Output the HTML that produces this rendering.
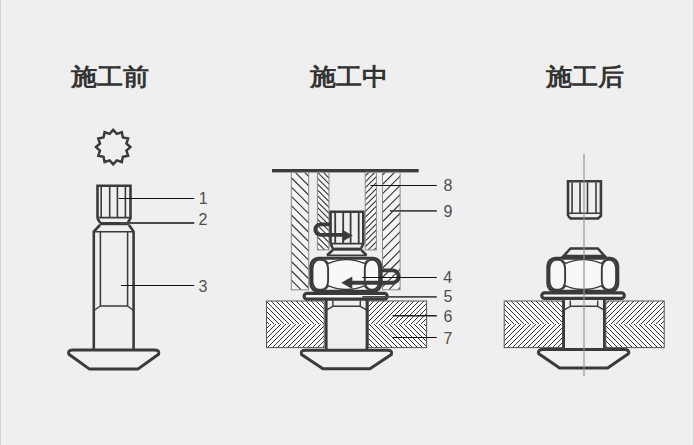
<!DOCTYPE html>
<html><head><meta charset="utf-8">
<style>
html,body{margin:0;padding:0;}
body{width:694px;height:445px;background:#efefef;position:relative;overflow:hidden;font-family:"Liberation Sans",sans-serif;}
.bl{position:absolute;top:0;bottom:0;width:1px;background:#d2d2d2;}
.t{position:absolute;font-size:26px;font-weight:bold;color:#333;line-height:30px;white-space:nowrap;transform:scale(1.0,0.92);transform-origin:0 0;}
svg{position:absolute;left:0;top:0;}
</style></head><body>
<div class="bl" style="left:0"></div><div class="bl" style="right:0"></div>
<div class="t" style="left:71px;top:63.3px">施工前</div>
<div class="t" style="left:309.5px;top:63.3px">施工中</div>
<div class="t" style="left:545.8px;top:63.3px">施工后</div>
<svg width="694" height="445" viewBox="0 0 694 445">
<defs>
<pattern id="hA" patternUnits="userSpaceOnUse" width="6.6" height="6.6" patternTransform="translate(0,2.7) rotate(-45)"><rect width="6.6" height="6.6" fill="#f4f4f4"/><line x1="3.3" y1="0" x2="3.3" y2="6.6" stroke="#333" stroke-width="1.1"/></pattern>
<pattern id="hB" patternUnits="userSpaceOnUse" width="6.6" height="6.6" patternTransform="translate(0,3.8) rotate(45)"><rect width="6.6" height="6.6" fill="#f4f4f4"/><line x1="3.3" y1="0" x2="3.3" y2="6.6" stroke="#333" stroke-width="1.1"/></pattern>
<pattern id="iA" patternUnits="userSpaceOnUse" width="4.13" height="4.13" patternTransform="translate(0,2.4) rotate(-45)"><rect width="4.13" height="4.13" fill="#f4f4f4"/><line x1="2.065" y1="0" x2="2.065" y2="4.13" stroke="#333" stroke-width="1.05"/></pattern>
<pattern id="iB" patternUnits="userSpaceOnUse" width="4.13" height="4.13" patternTransform="translate(0,0.8) rotate(45)"><rect width="4.13" height="4.13" fill="#f4f4f4"/><line x1="2.065" y1="0" x2="2.065" y2="4.13" stroke="#333" stroke-width="1.05"/></pattern>
<pattern id="pA" patternUnits="userSpaceOnUse" width="3.5355" height="3.5355" patternTransform="translate(0,1.5) rotate(-45)"><rect width="3.5355" height="3.5355" fill="#fbfbfb"/><line x1="1.76775" y1="0" x2="1.76775" y2="3.5355" stroke="#1a1a1a" stroke-width="1.1"/></pattern>
<pattern id="pB" patternUnits="userSpaceOnUse" width="3.5355" height="3.5355" patternTransform="translate(0,1.5) rotate(45)"><rect width="3.5355" height="3.5355" fill="#fbfbfb"/><line x1="1.76775" y1="0" x2="1.76775" y2="3.5355" stroke="#1a1a1a" stroke-width="1.1"/></pattern>
</defs>
<g fill="none" stroke="#3b3b3b" stroke-width="2.6" stroke-linejoin="miter">
<polygon points="113.20,129.90 116.75,133.87 121.80,132.20 122.89,137.41 128.10,138.50 126.43,143.55 130.40,147.10 126.43,150.65 128.10,155.70 122.89,156.79 121.80,162.00 116.75,160.33 113.20,164.30 109.65,160.33 104.60,162.00 103.51,156.79 98.30,155.70 99.97,150.65 96.00,147.10 99.97,143.55 98.30,138.50 103.51,137.41 104.60,132.20 109.65,133.87" stroke-width="2.5"/>
<path d="M97.5,218.5 V185.8 H130.5 V218.5 L128,222.5 M97.5,218.5 L100,222.5"/>
<path d="M101.2,187 V217 M109.7,187 V217 M117.4,187 V217 M125.4,187 V217 M97.5,217.6 H130.5" stroke-width="1.6"/>
<rect x="99.5" y="222" width="29.8" height="3.2" fill="#3b3b3b" stroke="none"/>
<path d="M100,225 L93.8,231.6 V349 M129,225 L133.6,231.6 V349"/>
<path d="M93.8,231.8 H133.6 M100.4,231.8 V306 H127.6 V231.8 M100.4,306 L93.8,310.5 M127.6,306 L133.6,310.5" stroke-width="1.5"/>
<path d="M73.05000000000001,350.0 H154.35 Q160.04999999999998,350.0 158.54999999999998,354.2 L138.2,368.9 H89.2 L68.85000000000001,354.2 Q67.35000000000001,350.0 73.05000000000001,350.0 Z" stroke-width="3.0" stroke-linejoin="round" fill="#f1f1f1"/>
<rect x="272" y="169" width="146.7" height="3.4" fill="#3b3b3b" stroke="none"/>
<clipPath id="c1"><rect x="291.3" y="172.3" width="17.399999999999977" height="117.5"/></clipPath>
<rect x="291.3" y="172.3" width="17.399999999999977" height="117.5" fill="#f4f4f4" stroke="none"/>
<path clip-path="url(#c1)" d="M153.70,170.3 L275.20,291.8 M163.00,170.3 L284.50,291.8 M172.30,170.3 L293.80,291.8 M181.60,170.3 L303.10,291.8 M190.90,170.3 L312.40,291.8 M200.20,170.3 L321.70,291.8 M209.50,170.3 L331.00,291.8 M218.80,170.3 L340.30,291.8 M228.10,170.3 L349.60,291.8 M237.40,170.3 L358.90,291.8 M246.70,170.3 L368.20,291.8 M256.00,170.3 L377.50,291.8 M265.30,170.3 L386.80,291.8 M274.60,170.3 L396.10,291.8 M283.90,170.3 L405.40,291.8 M293.20,170.3 L414.70,291.8 M302.50,170.3 L424.00,291.8 M311.80,170.3 L433.30,291.8 M321.10,170.3 L442.60,291.8" stroke="#333" stroke-width="1.1"/>
<rect x="291.3" y="172.3" width="17.399999999999977" height="117.5" stroke="#8a8a8a" stroke-width="1" fill="none"/>
<clipPath id="c2"><rect x="382.5" y="172.3" width="17.600000000000023" height="117.5"/></clipPath>
<rect x="382.5" y="172.3" width="17.600000000000023" height="117.5" fill="#f4f4f4" stroke="none"/>
<path clip-path="url(#c2)" d="M368.70,170.3 L247.20,291.8 M378.00,170.3 L256.50,291.8 M387.30,170.3 L265.80,291.8 M396.60,170.3 L275.10,291.8 M405.90,170.3 L284.40,291.8 M415.20,170.3 L293.70,291.8 M424.50,170.3 L303.00,291.8 M433.80,170.3 L312.30,291.8 M443.10,170.3 L321.60,291.8 M452.40,170.3 L330.90,291.8 M461.70,170.3 L340.20,291.8 M471.00,170.3 L349.50,291.8 M480.30,170.3 L358.80,291.8 M489.60,170.3 L368.10,291.8 M498.90,170.3 L377.40,291.8 M508.20,170.3 L386.70,291.8 M517.50,170.3 L396.00,291.8 M526.80,170.3 L405.30,291.8 M536.10,170.3 L414.60,291.8" stroke="#333" stroke-width="1.1"/>
<rect x="382.5" y="172.3" width="17.600000000000023" height="117.5" stroke="#8a8a8a" stroke-width="1" fill="none"/>
<clipPath id="c3"><rect x="317.4" y="172.3" width="11.600000000000023" height="77.6"/></clipPath>
<rect x="317.4" y="172.3" width="11.600000000000023" height="77.6" fill="#f4f4f4" stroke="none"/>
<path clip-path="url(#c3)" d="M227.42,170.3 L309.02,251.9 M233.29,170.3 L314.89,251.9 M239.16,170.3 L320.76,251.9 M245.03,170.3 L326.63,251.9 M250.90,170.3 L332.50,251.9 M256.77,170.3 L338.37,251.9 M262.64,170.3 L344.24,251.9 M268.51,170.3 L350.11,251.9 M274.38,170.3 L355.98,251.9 M280.25,170.3 L361.85,251.9 M286.12,170.3 L367.72,251.9 M291.99,170.3 L373.59,251.9 M297.86,170.3 L379.46,251.9 M303.73,170.3 L385.33,251.9 M309.60,170.3 L391.20,251.9 M315.47,170.3 L397.07,251.9 M321.34,170.3 L402.94,251.9 M327.21,170.3 L408.81,251.9 M333.08,170.3 L414.68,251.9" stroke="#333" stroke-width="1.05"/>
<rect x="317.4" y="172.3" width="11.600000000000023" height="77.6" stroke="#8a8a8a" stroke-width="1" fill="none"/>
<clipPath id="c4"><rect x="365.2" y="172.3" width="11.199999999999989" height="77.6"/></clipPath>
<rect x="365.2" y="172.3" width="11.199999999999989" height="77.6" fill="#f4f4f4" stroke="none"/>
<path clip-path="url(#c4)" d="M359.20,170.3 L277.60,251.9 M365.10,170.3 L283.50,251.9 M371.00,170.3 L289.40,251.9 M376.90,170.3 L295.30,251.9 M382.80,170.3 L301.20,251.9 M388.70,170.3 L307.10,251.9 M394.60,170.3 L313.00,251.9 M400.50,170.3 L318.90,251.9 M406.40,170.3 L324.80,251.9 M412.30,170.3 L330.70,251.9 M418.20,170.3 L336.60,251.9 M424.10,170.3 L342.50,251.9 M430.00,170.3 L348.40,251.9 M435.90,170.3 L354.30,251.9 M441.80,170.3 L360.20,251.9 M447.70,170.3 L366.10,251.9 M453.60,170.3 L372.00,251.9 M459.50,170.3 L377.90,251.9 M465.40,170.3 L383.80,251.9" stroke="#333" stroke-width="1.05"/>
<rect x="365.2" y="172.3" width="11.199999999999989" height="77.6" stroke="#8a8a8a" stroke-width="1" fill="none"/>
<path d="M330.55,243.5 V211.8 H363.3 V243.5 L361.3,248 M330.55,243.5 L332.6,248" fill="#efefef"/>
<path d="M335.2,213 V243 M343.2,213 V243 M350.6,213 V243 M358.7,213 V243 M330.5,243.6 H363.3" stroke-width="1.8"/>
<rect x="331.8" y="247.6" width="30.2" height="3.1" fill="#3b3b3b" stroke="none"/>
<path d="M332.5,250.2 L327,255.5 M361.5,250.2 L366.5,255.5"/>
<path d="M327,255.4 H366.5" stroke-width="1.8"/>
<g transform="translate(309.3,256.8)">
<rect x="1.5" y="1.5" width="70" height="33" rx="7.5" fill="#f8f8f8" stroke-width="3"/>
<rect x="3.2" y="3.1" width="15.60" height="29.8" rx="6.5" ry="8.5" stroke-width="1.9"/>
<rect x="55.5" y="3.1" width="14.30" height="29.8" rx="6.5" ry="8.5" stroke-width="1.9"/>
<path d="M18.8,6.8 Q37.15,-1.2 55.5,6.8 M18.8,28.8 Q37.15,36.6 55.5,28.8" stroke-width="1.4"/>
<path d="M15.8,3.2 L19.3,6.6 M58.5,3.2 L55.0,6.6 M15.8,32.8 L19.3,29.4 M58.5,32.8 L55.0,29.4" stroke-width="1.2"/>
</g>
<rect x="304.1" y="293.40000000000003" width="83.1" height="5.8" rx="2.9" fill="#fafafa" stroke-width="3.2"/>
<clipPath id="c5"><rect x="266.5" y="301" width="57.69999999999999" height="23.100000000000023"/></clipPath>
<rect x="266.5" y="301" width="57.69999999999999" height="23.100000000000023" fill="#fbfbfb" stroke="none"/>
<path clip-path="url(#c5)" d="M234.00,299 L261.10,326.1 M239.00,299 L266.10,326.1 M244.00,299 L271.10,326.1 M249.00,299 L276.10,326.1 M254.00,299 L281.10,326.1 M259.00,299 L286.10,326.1 M264.00,299 L291.10,326.1 M269.00,299 L296.10,326.1 M274.00,299 L301.10,326.1 M279.00,299 L306.10,326.1 M284.00,299 L311.10,326.1 M289.00,299 L316.10,326.1 M294.00,299 L321.10,326.1 M299.00,299 L326.10,326.1 M304.00,299 L331.10,326.1 M309.00,299 L336.10,326.1 M314.00,299 L341.10,326.1 M319.00,299 L346.10,326.1 M324.00,299 L351.10,326.1 M329.00,299 L356.10,326.1" stroke="#2a2a2a" stroke-width="0.95"/>
<clipPath id="c6"><rect x="266.5" y="324.1" width="57.69999999999999" height="23.5"/></clipPath>
<rect x="266.5" y="324.1" width="57.69999999999999" height="23.5" fill="#fbfbfb" stroke="none"/>
<path clip-path="url(#c6)" d="M262.90,322.1 L235.40,349.6 M267.90,322.1 L240.40,349.6 M272.90,322.1 L245.40,349.6 M277.90,322.1 L250.40,349.6 M282.90,322.1 L255.40,349.6 M287.90,322.1 L260.40,349.6 M292.90,322.1 L265.40,349.6 M297.90,322.1 L270.40,349.6 M302.90,322.1 L275.40,349.6 M307.90,322.1 L280.40,349.6 M312.90,322.1 L285.40,349.6 M317.90,322.1 L290.40,349.6 M322.90,322.1 L295.40,349.6 M327.90,322.1 L300.40,349.6 M332.90,322.1 L305.40,349.6 M337.90,322.1 L310.40,349.6 M342.90,322.1 L315.40,349.6 M347.90,322.1 L320.40,349.6 M352.90,322.1 L325.40,349.6 M357.90,322.1 L330.40,349.6" stroke="#2a2a2a" stroke-width="0.95"/>
<clipPath id="c7"><rect x="368.3" y="301" width="58.30000000000001" height="23.100000000000023"/></clipPath>
<rect x="368.3" y="301" width="58.30000000000001" height="23.100000000000023" fill="#fbfbfb" stroke="none"/>
<path clip-path="url(#c7)" d="M361.00,299 L333.90,326.1 M366.00,299 L338.90,326.1 M371.00,299 L343.90,326.1 M376.00,299 L348.90,326.1 M381.00,299 L353.90,326.1 M386.00,299 L358.90,326.1 M391.00,299 L363.90,326.1 M396.00,299 L368.90,326.1 M401.00,299 L373.90,326.1 M406.00,299 L378.90,326.1 M411.00,299 L383.90,326.1 M416.00,299 L388.90,326.1 M421.00,299 L393.90,326.1 M426.00,299 L398.90,326.1 M431.00,299 L403.90,326.1 M436.00,299 L408.90,326.1 M441.00,299 L413.90,326.1 M446.00,299 L418.90,326.1 M451.00,299 L423.90,326.1 M456.00,299 L428.90,326.1 M461.00,299 L433.90,326.1" stroke="#2a2a2a" stroke-width="0.95"/>
<clipPath id="c8"><rect x="368.3" y="324.1" width="58.30000000000001" height="23.5"/></clipPath>
<rect x="368.3" y="324.1" width="58.30000000000001" height="23.5" fill="#fbfbfb" stroke="none"/>
<path clip-path="url(#c8)" d="M337.10,322.1 L364.60,349.6 M342.10,322.1 L369.60,349.6 M347.10,322.1 L374.60,349.6 M352.10,322.1 L379.60,349.6 M357.10,322.1 L384.60,349.6 M362.10,322.1 L389.60,349.6 M367.10,322.1 L394.60,349.6 M372.10,322.1 L399.60,349.6 M377.10,322.1 L404.60,349.6 M382.10,322.1 L409.60,349.6 M387.10,322.1 L414.60,349.6 M392.10,322.1 L419.60,349.6 M397.10,322.1 L424.60,349.6 M402.10,322.1 L429.60,349.6 M407.10,322.1 L434.60,349.6 M412.10,322.1 L439.60,349.6 M417.10,322.1 L444.60,349.6 M422.10,322.1 L449.60,349.6 M427.10,322.1 L454.60,349.6 M432.10,322.1 L459.60,349.6" stroke="#2a2a2a" stroke-width="0.95"/>
<rect x="266.5" y="301" width="57.69999999999999" height="46.60000000000002" stroke="#555" stroke-width="1"/>
<rect x="368.3" y="301" width="58.30000000000001" height="46.60000000000002" stroke="#555" stroke-width="1"/>
<path d="M326.3,300 V349 M366.90000000000003,300 V349" stroke-width="2.6"/>
<path d="M332.90000000000003,300.5 V306.3 H360.3 V300.5 M332.90000000000003,306.3 L326.3,310.2 M360.3,306.3 L366.90000000000003,310.2" stroke-width="1.4"/>
<path d="M305.7,350.2 H387.2 Q392.9,350.2 391.4,354.4 L369.95,368.8 H322.95 L301.5,354.4 Q300.0,350.2 305.7,350.2 Z" stroke-width="3.0" stroke-linejoin="round" fill="#f1f1f1"/>
<path d="M330,224.3 H320.6 A5.3,5.3 0 0 0 320.6,234.9 H344" stroke-width="3.8" stroke-linejoin="round"/>
<polygon points="352.8,235.6 342.3,229.8 342.3,241.8" fill="#3b3b3b" stroke="none"/>
<path d="M382,270.35 H392.5 A6.2,6.2 0 0 1 392.5,282.75 H351" stroke-width="3.8"/>
<polygon points="341.3,282.7 352.3,276.5 352.3,289.1" fill="#3b3b3b" stroke="none"/>
<path d="M568,216 V181.3 H600.9 V216 L598,218.5 H570.7 L568,216"/>
<path d="M572.1,182.6 V212.6 M580,182.6 V212.6 M587.5,182.6 V212.6 M596,182.6 V212.6 M568,213.2 H600.9" stroke-width="1.6"/>
<path d="M570.5,248.5 H597.8 L604.6,256 H563.6 Z" stroke-width="2.5"/>
<g transform="translate(546.3,256.8)">
<rect x="1.5" y="1.5" width="70" height="33" rx="7.5" fill="#f8f8f8" stroke-width="3"/>
<rect x="3.2" y="3.1" width="15.60" height="29.8" rx="6.5" ry="8.5" stroke-width="1.9"/>
<rect x="55.5" y="3.1" width="14.30" height="29.8" rx="6.5" ry="8.5" stroke-width="1.9"/>
<path d="M18.8,6.8 Q37.15,-1.2 55.5,6.8 M18.8,28.8 Q37.15,36.6 55.5,28.8" stroke-width="1.4"/>
<path d="M15.8,3.2 L19.3,6.6 M58.5,3.2 L55.0,6.6 M15.8,32.8 L19.3,29.4 M58.5,32.8 L55.0,29.4" stroke-width="1.2"/>
</g>
<rect x="541.8000000000001" y="292.8" width="82.5" height="5.6000000000000005" rx="2.8000000000000003" fill="#fafafa" stroke-width="3.2"/>
<clipPath id="c9"><rect x="504.2" y="301" width="58.400000000000034" height="23.100000000000023"/></clipPath>
<rect x="504.2" y="301" width="58.400000000000034" height="23.100000000000023" fill="#fbfbfb" stroke="none"/>
<path clip-path="url(#c9)" d="M474.00,299 L501.10,326.1 M479.00,299 L506.10,326.1 M484.00,299 L511.10,326.1 M489.00,299 L516.10,326.1 M494.00,299 L521.10,326.1 M499.00,299 L526.10,326.1 M504.00,299 L531.10,326.1 M509.00,299 L536.10,326.1 M514.00,299 L541.10,326.1 M519.00,299 L546.10,326.1 M524.00,299 L551.10,326.1 M529.00,299 L556.10,326.1 M534.00,299 L561.10,326.1 M539.00,299 L566.10,326.1 M544.00,299 L571.10,326.1 M549.00,299 L576.10,326.1 M554.00,299 L581.10,326.1 M559.00,299 L586.10,326.1 M564.00,299 L591.10,326.1 M569.00,299 L596.10,326.1" stroke="#2a2a2a" stroke-width="0.95"/>
<clipPath id="c10"><rect x="504.2" y="324.1" width="58.400000000000034" height="23.5"/></clipPath>
<rect x="504.2" y="324.1" width="58.400000000000034" height="23.5" fill="#fbfbfb" stroke="none"/>
<path clip-path="url(#c10)" d="M497.90,322.1 L470.40,349.6 M502.90,322.1 L475.40,349.6 M507.90,322.1 L480.40,349.6 M512.90,322.1 L485.40,349.6 M517.90,322.1 L490.40,349.6 M522.90,322.1 L495.40,349.6 M527.90,322.1 L500.40,349.6 M532.90,322.1 L505.40,349.6 M537.90,322.1 L510.40,349.6 M542.90,322.1 L515.40,349.6 M547.90,322.1 L520.40,349.6 M552.90,322.1 L525.40,349.6 M557.90,322.1 L530.40,349.6 M562.90,322.1 L535.40,349.6 M567.90,322.1 L540.40,349.6 M572.90,322.1 L545.40,349.6 M577.90,322.1 L550.40,349.6 M582.90,322.1 L555.40,349.6 M587.90,322.1 L560.40,349.6 M592.90,322.1 L565.40,349.6 M597.90,322.1 L570.40,349.6" stroke="#2a2a2a" stroke-width="0.95"/>
<clipPath id="c11"><rect x="605.8" y="301" width="58.40000000000009" height="23.100000000000023"/></clipPath>
<rect x="605.8" y="301" width="58.40000000000009" height="23.100000000000023" fill="#fbfbfb" stroke="none"/>
<path clip-path="url(#c11)" d="M601.00,299 L573.90,326.1 M606.00,299 L578.90,326.1 M611.00,299 L583.90,326.1 M616.00,299 L588.90,326.1 M621.00,299 L593.90,326.1 M626.00,299 L598.90,326.1 M631.00,299 L603.90,326.1 M636.00,299 L608.90,326.1 M641.00,299 L613.90,326.1 M646.00,299 L618.90,326.1 M651.00,299 L623.90,326.1 M656.00,299 L628.90,326.1 M661.00,299 L633.90,326.1 M666.00,299 L638.90,326.1 M671.00,299 L643.90,326.1 M676.00,299 L648.90,326.1 M681.00,299 L653.90,326.1 M686.00,299 L658.90,326.1 M691.00,299 L663.90,326.1 M696.00,299 L668.90,326.1" stroke="#2a2a2a" stroke-width="0.95"/>
<clipPath id="c12"><rect x="605.8" y="324.1" width="58.40000000000009" height="23.5"/></clipPath>
<rect x="605.8" y="324.1" width="58.40000000000009" height="23.5" fill="#fbfbfb" stroke="none"/>
<path clip-path="url(#c12)" d="M572.10,322.1 L599.60,349.6 M577.10,322.1 L604.60,349.6 M582.10,322.1 L609.60,349.6 M587.10,322.1 L614.60,349.6 M592.10,322.1 L619.60,349.6 M597.10,322.1 L624.60,349.6 M602.10,322.1 L629.60,349.6 M607.10,322.1 L634.60,349.6 M612.10,322.1 L639.60,349.6 M617.10,322.1 L644.60,349.6 M622.10,322.1 L649.60,349.6 M627.10,322.1 L654.60,349.6 M632.10,322.1 L659.60,349.6 M637.10,322.1 L664.60,349.6 M642.10,322.1 L669.60,349.6 M647.10,322.1 L674.60,349.6 M652.10,322.1 L679.60,349.6 M657.10,322.1 L684.60,349.6 M662.10,322.1 L689.60,349.6 M667.10,322.1 L694.60,349.6 M672.10,322.1 L699.60,349.6" stroke="#2a2a2a" stroke-width="0.95"/>
<rect x="504.2" y="301" width="58.400000000000034" height="46.60000000000002" stroke="#555" stroke-width="1"/>
<rect x="605.8" y="301" width="58.40000000000009" height="46.60000000000002" stroke="#555" stroke-width="1"/>
<path d="M563.7,300 V349 M604.3,300 V349" stroke-width="2.6"/>
<path d="M570.3000000000001,300.5 V306.3 H597.6999999999999 V300.5 M570.3000000000001,306.3 L563.7,310.2 M597.6999999999999,306.3 L604.3,310.2" stroke-width="1.4"/>
<path d="M543.0,349.6 H624.2 Q629.9000000000001,349.6 628.4000000000001,353.8 L607.6,368.1 H559.6 L538.8,353.8 Q537.3,349.6 543.0,349.6 Z" stroke-width="3.0" stroke-linejoin="round" fill="#f1f1f1"/>
<line x1="584" y1="153.7" x2="584" y2="376" stroke="#959595" stroke-width="1.15"/>
</g>
<g>
<line x1="118.8" y1="198.5" x2="194.2" y2="198.5" stroke="#111" stroke-width="1.2"/>
<line x1="120" y1="223.0" x2="194.2" y2="223.0" stroke="#4a4a4a" stroke-width="1.8"/>
<line x1="121" y1="285.5" x2="194.2" y2="285.5" stroke="#111" stroke-width="1.2"/>
<line x1="370.4" y1="185.5" x2="436.8" y2="185.5" stroke="#111" stroke-width="1.2"/>
<line x1="390" y1="210.9" x2="436.8" y2="210.9" stroke="#4a4a4a" stroke-width="1.8"/>
<line x1="362.3" y1="277.5" x2="436.8" y2="277.5" stroke="#111" stroke-width="1.2"/>
<line x1="362.3" y1="296.8" x2="436.8" y2="296.8" stroke="#4a4a4a" stroke-width="1.8"/>
<line x1="392.6" y1="315.8" x2="436.8" y2="315.8" stroke="#222" stroke-width="1.4"/>
<line x1="392.6" y1="337.5" x2="436.8" y2="337.5" stroke="#111" stroke-width="1.2"/>
</g>
<g font-family="Liberation Sans, sans-serif" font-size="16" fill="#4e4e4e">
<text x="198.8" y="204.2">1</text>
<text x="198.6" y="225.4">2</text>
<text x="198.6" y="291.9">3</text>
<text x="443.6" y="191.3">8</text>
<text x="443.6" y="216.6">9</text>
<text x="443.3" y="283.2">4</text>
<text x="443.6" y="302.3">5</text>
<text x="443.6" y="322.3">6</text>
<text x="443.6" y="343.7">7</text>
</g>
</svg>
</body></html>
